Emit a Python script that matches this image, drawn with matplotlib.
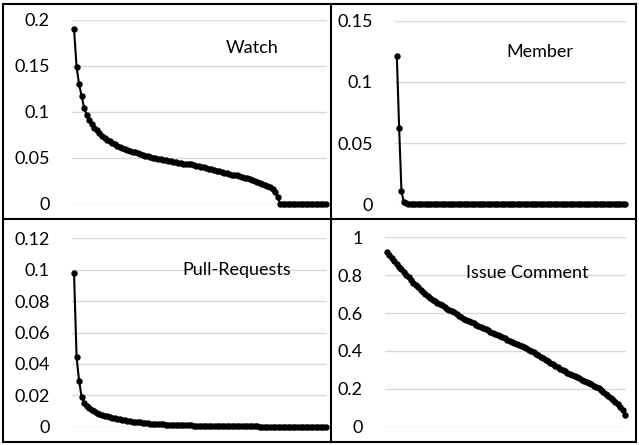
import matplotlib
matplotlib.use("Agg")
import matplotlib.pyplot as plt
from matplotlib.lines import Line2D

plt.rcParams['font.family'] = ['Lato', 'DejaVu Sans']

# rank-ordered shares for each activity type
watch = [0.190, 0.149, 0.130, 0.117, 0.104, 0.097, 0.091, 0.087, 0.083, 0.080,
         0.077, 0.074, 0.072, 0.070, 0.068, 0.066, 0.065, 0.063, 0.062, 0.061,
         0.060, 0.059, 0.058, 0.057, 0.056, 0.055, 0.054, 0.053, 0.052, 0.052,
         0.051, 0.050, 0.050, 0.049, 0.049, 0.048, 0.048, 0.047, 0.047, 0.046,
         0.046, 0.045, 0.045, 0.044, 0.044, 0.043, 0.043, 0.042, 0.041, 0.041,
         0.040, 0.040, 0.039, 0.038, 0.038, 0.037, 0.036, 0.036, 0.035, 0.034,
         0.034, 0.033, 0.032, 0.031, 0.031, 0.030, 0.029, 0.028, 0.028, 0.027,
         0.026, 0.025, 0.024, 0.023, 0.022, 0.021, 0.020, 0.018, 0.016, 0.013,
         0.008, 0, 0, 0, 0, 0, 0, 0, 0, 0,
         0, 0, 0, 0, 0, 0, 0, 0, 0, 0]

member = [0.121, 0.062, 0.011, 0.0016, 0.0009, 0.0006, 0.0004, 0.0003, 0.0002, 0.0002,
          0.0001, 0.0001, 0.0001, 0.0001, 0.0001, 0, 0, 0, 0, 0,
          0, 0, 0, 0, 0, 0, 0, 0, 0, 0,
          0, 0, 0, 0, 0, 0, 0, 0, 0, 0,
          0, 0, 0, 0, 0, 0, 0, 0, 0, 0,
          0, 0, 0, 0, 0, 0, 0, 0, 0, 0,
          0, 0, 0, 0, 0, 0, 0, 0, 0, 0,
          0, 0, 0, 0, 0, 0, 0, 0, 0, 0,
          0, 0, 0, 0, 0, 0, 0, 0, 0, 0,
          0, 0, 0, 0, 0, 0, 0, 0, 0, 0]

pull_requests = [0.0977, 0.0442, 0.0291, 0.0187, 0.0153, 0.0132, 0.0118, 0.0107, 0.0098, 0.0090,
                 0.0083, 0.0077, 0.0071, 0.0066, 0.0062, 0.0058, 0.0054, 0.0050, 0.0047, 0.0044,
                 0.0041, 0.0038, 0.0035, 0.0033, 0.0031, 0.0029, 0.0027, 0.0025, 0.0023, 0.0022,
                 0.0020, 0.0019, 0.0018, 0.0017, 0.0016, 0.0015, 0.0014, 0.0013, 0.0012, 0.0011,
                 0.0011, 0.0010, 0.0010, 0.0009, 0.0009, 0.0008, 0.0008, 0.0007, 0.0007, 0.0007,
                 0.0006, 0.0006, 0.0006, 0.0005, 0.0005, 0.0005, 0.0005, 0.0004, 0.0004, 0.0004,
                 0.0004, 0.0003, 0.0003, 0.0003, 0.0003, 0.0003, 0.0002, 0.0002, 0.0002, 0.0002,
                 0.0002, 0.0002, 0.0002, 0.0001, 0.0001, 0.0001, 0.0001, 0.0001, 0.0001, 0.0001,
                 0.0001, 0.0001, 0.0001, 0.0001, 0.0001, 0.0001, 0.0001, 0.0001, 0.0001, 0.0001,
                 0.0001, 0.0001, 0.0001, 0.0001, 0.0001, 0.0001, 0.0001, 0.0001, 0.0001, 0.0001]

issue_comment = [0.921, 0.906, 0.891, 0.876, 0.861, 0.845, 0.830, 0.816, 0.802, 0.788,
                 0.774, 0.761, 0.748, 0.735, 0.722, 0.711, 0.700, 0.690, 0.680, 0.671,
                 0.663, 0.655, 0.648, 0.640, 0.632, 0.624, 0.617, 0.610, 0.603, 0.596,
                 0.587, 0.578, 0.571, 0.564, 0.558, 0.551, 0.545, 0.539, 0.533, 0.527,
                 0.521, 0.515, 0.508, 0.502, 0.496, 0.490, 0.484, 0.478, 0.472, 0.466,
                 0.460, 0.454, 0.448, 0.442, 0.437, 0.431, 0.425, 0.419, 0.413, 0.406,
                 0.399, 0.392, 0.384, 0.376, 0.369, 0.361, 0.353, 0.345, 0.337, 0.330,
                 0.322, 0.314, 0.307, 0.300, 0.293, 0.286, 0.280, 0.273, 0.267, 0.261,
                 0.255, 0.249, 0.243, 0.237, 0.230, 0.223, 0.216, 0.210, 0.202, 0.192,
                 0.182, 0.173, 0.164, 0.153, 0.141, 0.130, 0.118, 0.104, 0.088, 0.062]

W, H = 639, 445
fig = plt.figure(figsize=(W / 100, H / 100), dpi=100)


def px_axes(x0, y0, x1, y1):
    # pixel box (top-left origin) -> figure axes
    return fig.add_axes([x0 / W, 1 - y1 / H, (x1 - x0) / W, (y1 - y0) / H])


panels = [
    # (data, title, box, yticks, ticklabels, title pos)
    (watch, "Watch", (72, 20, 327, 204), [0, 0.05, 0.1, 0.15, 0.2],
     ["0", "0.05", "0.1", "0.15", "0.2"], (252, 48)),
    (member, "Member", (395, 20.7, 626, 204.3), [0, 0.05, 0.1, 0.15],
     ["0", "0.05", "0.1", "0.15"], (540, 52)),
    (pull_requests, "Pull-Requests", (72, 238.3, 327, 426.7),
     [0, 0.02, 0.04, 0.06, 0.08, 0.1, 0.12],
     ["0", "0.02", "0.04", "0.06", "0.08", "0.1", "0.12"], (237, 270)),
    (issue_comment, "Issue Comment", (385, 237.3, 626, 426.7),
     [0, 0.2, 0.4, 0.6, 0.8, 1], ["0", "0.2", "0.4", "0.6", "0.8", "1"], (527, 273)),
]

for data, name, box, ticks, labels, tpos in panels:
    ax = px_axes(*box)
    n = len(data)
    ax.plot(range(n), data, color="black", lw=1.5, marker="o", ms=3.6,
            clip_on=False, zorder=3)
    ax.set_xlim(-0.8, n - 1 + 0.4)
    ax.set_ylim(ticks[0], ticks[-1])
    ax.set_yticks(ticks)
    ax.set_yticklabels(labels, fontsize=13)
    ax.tick_params(axis="y", length=0, pad=16)
    ax.set_xticks([])
    for s in ax.spines.values():
        s.set_visible(False)
    ax.grid(axis="y", color="#d9d9d9", lw=1)
    ax.set_axisbelow(True)
    ax.patch.set_alpha(0)
    fig.text(tpos[0] / W, 1 - tpos[1] / H, name, fontsize=13,
             ha="center", va="center")

# panel frame and dividers
frame = [((3, 636), (3.5, 3.5)), ((3, 636), (441.5, 441.5)),
         ((3, 3), (3.5, 441.5)), ((636, 636), (3.5, 441.5)),
         ((331, 331), (3.5, 441.5)), ((3, 636), (219.5, 219.5))]
for xs, ys in frame:
    fig.add_artist(Line2D([x / W for x in xs], [1 - y / H for y in ys],
                          color="black", lw=1.5))

fig.savefig("out.png", dpi=100)
